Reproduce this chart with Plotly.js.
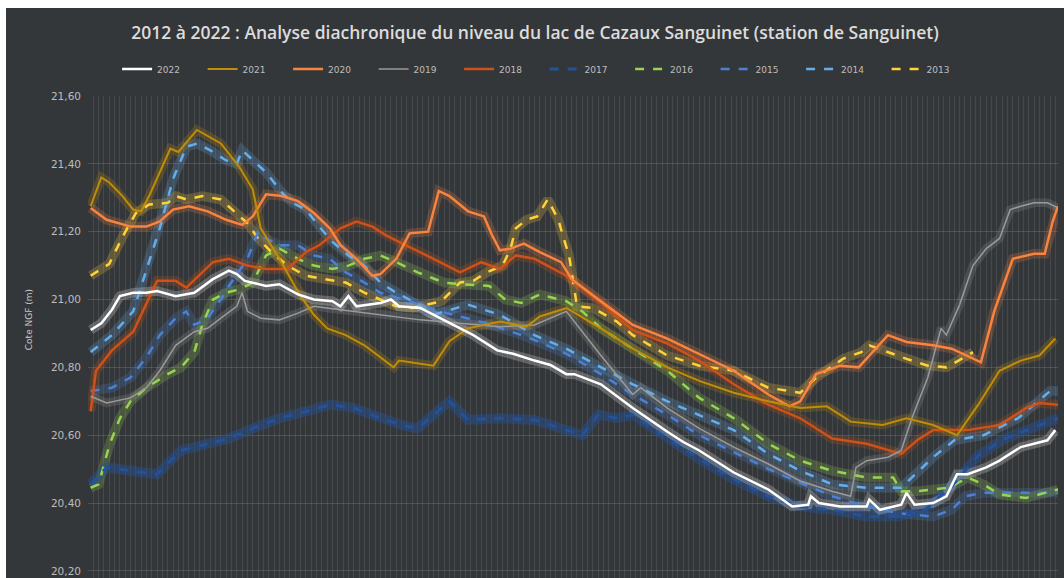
<!DOCTYPE html>
<html>
<head>
<meta charset="utf-8">
<script src="https://cdn.plot.ly/plotly-3.0.1.min.js"></script>
<style>
  body { margin: 0; background: #ffffff; }
  #chart { position: absolute; left: 6px; top: 8px; width: 1058px; height: 570px; }
</style>
</head>
<body>
<div id="chart"></div>
<script>
// jour de l'année (0-365) et cote NGF
const x2022 = [1, 5, 9, 12, 17, 22, 26, 33, 40, 47, 53, 56, 59, 67, 72, 79, 85, 92, 95, 98, 101, 110, 114, 117, 125, 140, 145, 154, 160, 168, 174, 180, 183, 193, 205, 218, 224, 230, 243, 256, 265, 271, 272, 275, 283, 293, 294, 298, 306, 308, 311, 318, 323, 327, 331, 338, 343, 351, 356, 361, 364];
const y2022 = [20.91, 20.93, 20.97, 21.01, 21.02, 21.02, 21.025, 21.01, 21.02, 21.06, 21.085, 21.075, 21.055, 21.04, 21.045, 21.015, 21.00, 20.995, 20.98, 21.01, 20.98, 20.99, 21.0, 20.98, 20.975, 20.915, 20.895, 20.85, 20.84, 20.82, 20.807, 20.78, 20.78, 20.75, 20.68, 20.61, 20.58, 20.555, 20.49, 20.44, 20.39, 20.395, 20.42, 20.40, 20.39, 20.39, 20.41, 20.38, 20.395, 20.43, 20.395, 20.40, 20.42, 20.485, 20.485, 20.505, 20.525, 20.565, 20.575, 20.585, 20.615];

const x2021 = [1, 5, 8, 13, 17, 20, 23, 31, 34, 41, 50, 57, 62, 65, 72, 80, 85, 90, 97, 104, 110, 115, 117, 125, 130, 136, 143, 155, 165, 170, 180, 193, 205, 218, 230, 243, 256, 268, 278, 287, 299, 308, 318, 327, 335, 343, 351, 358, 364];
const y2021 = [21.275, 21.36, 21.345, 21.305, 21.265, 21.26, 21.305, 21.445, 21.435, 21.50, 21.46, 21.39, 21.325, 21.21, 21.12, 21.01, 20.955, 20.915, 20.895, 20.865, 20.83, 20.80, 20.82, 20.81, 20.805, 20.877, 20.915, 20.935, 20.92, 20.95, 20.975, 20.915, 20.855, 20.80, 20.76, 20.725, 20.70, 20.68, 20.685, 20.64, 20.63, 20.65, 20.63, 20.60, 20.69, 20.79, 20.82, 20.835, 20.885];

const x2020 = [1, 7, 16, 22, 27, 32, 38, 45, 52, 58, 62, 67, 73, 79, 85, 91, 95, 101, 107, 110, 116, 121, 128, 132, 136, 143, 149, 152, 155, 159, 164, 170, 178, 182, 193, 205, 218, 230, 243, 256, 264, 268, 274, 283, 290, 301, 308, 318, 325, 336, 341, 348, 356, 360, 363, 365];
const y2020 = [21.27, 21.235, 21.215, 21.215, 21.23, 21.265, 21.275, 21.26, 21.235, 21.22, 21.245, 21.31, 21.305, 21.29, 21.255, 21.21, 21.16, 21.12, 21.07, 21.075, 21.12, 21.195, 21.20, 21.32, 21.305, 21.26, 21.245, 21.19, 21.145, 21.15, 21.165, 21.14, 21.11, 21.06, 20.995, 20.925, 20.885, 20.84, 20.79, 20.72, 20.685, 20.70, 20.78, 20.805, 20.80, 20.895, 20.875, 20.865, 20.855, 20.815, 20.965, 21.12, 21.135, 21.135, 21.23, 21.275];

const x2019 = [1, 7, 16, 22, 27, 33, 40, 45, 50, 56, 58, 60, 65, 72, 79, 85, 95, 105, 115, 125, 140, 155, 168, 180, 193, 205, 208, 218, 230, 243, 256, 268, 280, 287, 289, 293, 301, 306, 310, 316, 321, 323, 328, 333, 338, 343, 347, 351, 356, 361, 365];
const y2019 = [20.715, 20.695, 20.71, 20.74, 20.79, 20.865, 20.905, 20.915, 20.945, 20.98, 21.02, 20.965, 20.945, 20.94, 20.96, 20.98, 20.97, 20.96, 20.95, 20.94, 20.93, 20.92, 20.925, 20.965, 20.835, 20.72, 20.74, 20.68, 20.62, 20.565, 20.515, 20.465, 20.435, 20.42, 20.505, 20.525, 20.535, 20.555, 20.65, 20.77, 20.915, 20.895, 20.985, 21.10, 21.15, 21.18, 21.265, 21.275, 21.285, 21.285, 21.27];

const x2018 = [1, 3, 9, 17, 26, 33, 37, 47, 53, 60, 67, 75, 82, 87, 95, 101, 107, 112, 117, 125, 130, 140, 148, 155, 161, 168, 175, 180, 193, 205, 218, 230, 243, 256, 268, 280, 293, 306, 312, 318, 331, 343, 353, 358, 365];
const y2018 = [20.67, 20.79, 20.85, 20.905, 21.055, 21.055, 21.035, 21.11, 21.12, 21.10, 21.09, 21.09, 21.14, 21.16, 21.21, 21.23, 21.215, 21.19, 21.17, 21.14, 21.12, 21.08, 21.11, 21.09, 21.13, 21.12, 21.09, 21.07, 20.99, 20.91, 20.87, 20.82, 20.75, 20.69, 20.65, 20.59, 20.575, 20.545, 20.585, 20.615, 20.615, 20.63, 20.68, 20.695, 20.69];

const x2017 = [1, 7, 16, 26, 35, 45, 53, 62, 72, 82, 91, 100, 110, 118, 124, 136, 143, 155, 168, 180, 186, 192, 199, 205, 218, 230, 243, 256, 268, 280, 293, 305, 315, 325, 335, 345, 355, 365];
const y2017 = [20.455, 20.505, 20.495, 20.485, 20.555, 20.575, 20.59, 20.62, 20.65, 20.67, 20.69, 20.68, 20.65, 20.63, 20.62, 20.70, 20.645, 20.65, 20.645, 20.615, 20.60, 20.66, 20.65, 20.66, 20.59, 20.53, 20.47, 20.42, 20.39, 20.38, 20.36, 20.36, 20.38, 20.45, 20.54, 20.59, 20.62, 20.65];

const x2016 = [1, 4, 8, 12, 16, 22, 30, 35, 40, 43, 47, 52, 57, 62, 67, 72, 79, 85, 92, 98, 104, 110, 116, 124, 134, 140, 151, 157, 163, 170, 180, 186, 193, 205, 218, 230, 243, 256, 268, 280, 293, 303, 306, 312, 324, 331, 337, 343, 353, 365];
const y2016 = [20.445, 20.455, 20.57, 20.65, 20.70, 20.74, 20.78, 20.80, 20.845, 20.925, 21.0, 21.02, 21.03, 21.05, 21.13, 21.15, 21.12, 21.10, 21.09, 21.10, 21.12, 21.13, 21.11, 21.08, 21.05, 21.045, 21.04, 21.0, 20.99, 21.015, 20.995, 20.965, 20.915, 20.855, 20.79, 20.71, 20.65, 20.575, 20.525, 20.495, 20.475, 20.475, 20.435, 20.435, 20.445, 20.475, 20.455, 20.425, 20.415, 20.44];

const x2015 = [1, 9, 16, 22, 27, 33, 37, 40, 45, 50, 53, 60, 64, 67, 72, 79, 85, 91, 97, 104, 110, 123, 135, 150, 165, 180, 193, 205, 218, 230, 243, 256, 268, 280, 293, 305, 318, 325, 330, 337, 345, 355, 365];
const y2015 = [20.73, 20.74, 20.77, 20.83, 20.895, 20.945, 20.965, 20.925, 20.945, 21.0, 21.04, 21.12, 21.20, 21.18, 21.16, 21.16, 21.13, 21.12, 21.08, 21.05, 21.02, 20.99, 20.96, 20.93, 20.89, 20.84, 20.78, 20.72, 20.66, 20.60, 20.55, 20.50, 20.46, 20.42, 20.39, 20.37, 20.36, 20.38, 20.42, 20.43, 20.43, 20.43, 20.43];

const x2014 = [1, 9, 17, 22, 27, 32, 37, 41, 46, 52, 56, 58, 62, 67, 73, 77, 82, 87, 92, 98, 104, 110, 116, 122, 130, 143, 155, 168, 180, 193, 205, 218, 230, 243, 256, 268, 280, 293, 306, 318, 326, 337, 350, 356, 362, 365];
const y2014 = [20.845, 20.895, 20.965, 21.09, 21.21, 21.355, 21.45, 21.46, 21.44, 21.41, 21.40, 21.44, 21.41, 21.375, 21.315, 21.285, 21.265, 21.215, 21.17, 21.13, 21.10, 21.05, 21.02, 20.995, 20.955, 20.985, 20.955, 20.895, 20.855, 20.80, 20.75, 20.70, 20.66, 20.615, 20.545, 20.495, 20.455, 20.445, 20.445, 20.535, 20.585, 20.60, 20.65, 20.69, 20.73, 20.73];

const x2013 = [1, 8, 13, 18, 23, 30, 33, 37, 43, 50, 55, 60, 64, 69, 75, 82, 89, 97, 104, 110, 116, 122, 133, 140, 145, 150, 156, 159, 161, 165, 169, 173, 177, 179, 181, 184, 190, 199, 205, 218, 230, 243, 256, 268, 274, 284, 291, 294, 301, 308, 316, 323, 331, 333];
const y2013 = [21.07, 21.105, 21.185, 21.255, 21.28, 21.285, 21.305, 21.295, 21.305, 21.295, 21.26, 21.225, 21.18, 21.14, 21.10, 21.07, 21.06, 21.05, 21.02, 21.0, 20.98, 20.975, 20.995, 21.05, 21.055, 21.08, 21.10, 21.15, 21.21, 21.235, 21.245, 21.295, 21.235, 21.18, 21.13, 20.98, 20.975, 20.935, 20.895, 20.835, 20.805, 20.79, 20.74, 20.725, 20.77, 20.825, 20.845, 20.865, 20.845, 20.825, 20.805, 20.80, 20.835, 20.845];

const years = ['2013', '2014', '2015', '2016', '2017', '2018', '2019', '2020', '2021', '2022'];
const xs = [x2013, x2014, x2015, x2016, x2017, x2018, x2019, x2020, x2021, x2022];
const ys = [y2013, y2014, y2015, y2016, y2017, y2018, y2019, y2020, y2021, y2022];

const colors = ['#ffd23a', '#66aeea', '#4b80d2', '#97d452', '#23529a', '#cc5219', '#9a9a9a', '#f7843f', '#c08d0a', '#ffffff'];
const dashes = ['dash', 'dash', 'dash', 'dash', 'dash', 'solid', 'solid', 'solid', 'solid', 'solid'];
const widths = [2.5, 2.5, 2.5, 2.5, 3, 2.5, 1.5, 2.5, 2, 2.5];

let glow = years.map((yr, i) => ({
    type: 'scatter',
    mode: 'lines',
    x: xs[i],
    y: ys[i],
    line: { color: colors[i], width: widths[i] + 7 },
    opacity: i === 4 ? 0.45 : 0.22,
    showlegend: false,
    hoverinfo: 'skip',
}));

let lines = years.map((yr, i) => ({
    type: 'scatter',
    mode: 'lines',
    name: yr,
    x: xs[i],
    y: ys[i],
    line: { color: colors[i], width: widths[i], dash: dashes[i] },
}));

const layout = {
    width: 1058,
    height: 570,
    margin: { l: 82, r: 6, t: 88, b: 0 },
    paper_bgcolor: '#34373a',
    plot_bgcolor: '#34373a',
    separators: ', ',
    title: {
        text: '2012 à 2022 : Analyse diachronique du niveau du lac de Cazaux Sanguinet (station de Sanguinet)',
        font: { family: 'Open Sans', size: 17.5, color: '#dcdcdc', weight: 600 },
        x: 0.5,
        xanchor: 'center',
        y: 0.956,
        yanchor: 'middle',
        yref: 'container',
    },
    showlegend: true,
    legend: {
        orientation: 'h',
        traceorder: 'reversed',
        x: 0.03,
        xanchor: 'left',
        y: 1.056,
        yanchor: 'middle',
        font: { family: 'DejaVu Sans', size: 9, color: '#bdbdbd' },
        entrywidth: 40.5,
        entrywidthmode: 'pixels',
        bgcolor: 'rgba(0,0,0,0)',
    },
    xaxis: {
        range: [0, 365],
        dtick: 2,
        tick0: 0,
        showgrid: true,
        gridcolor: 'rgba(255,255,255,0.09)',
        gridwidth: 1,
        showticklabels: false,
        zeroline: false,
        showline: false,
        ticks: '',
    },
    yaxis: {
        range: [20.179, 21.6],
        dtick: 0.2,
        tick0: 20.2,
        tickformat: '.2f',
        showgrid: true,
        gridcolor: 'rgba(255,255,255,0.13)',
        zeroline: false,
        showline: false,
        ticks: '',
        ticklabelstandoff: 6,
        tickfont: { family: 'DejaVu Sans', size: 10.5, color: '#bdbdbd' },
    },
    annotations: [{
        text: 'Cote NGF (m)',
        xref: 'paper',
        yref: 'paper',
        x: -0.068,
        y: 0.535,
        textangle: -90,
        showarrow: false,
        font: { family: 'DejaVu Sans', size: 9, color: '#c8c8c8' },
    }],
};

Plotly.newPlot('chart', glow.concat(lines), layout, { displayModeBar: false, responsive: false });
</script>
</body>
</html>
